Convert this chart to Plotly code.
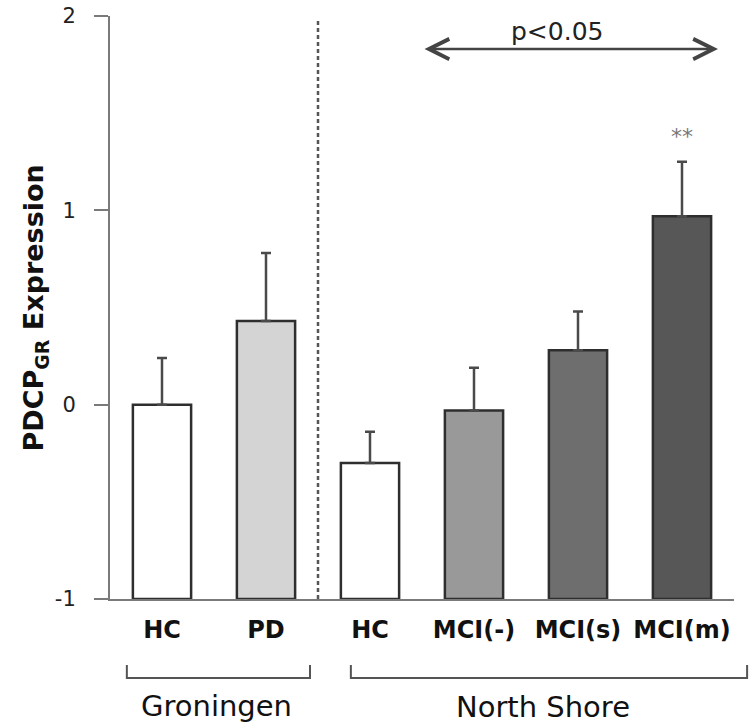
import plotly.graph_objects as go

categories = ["HC", "PD", "HC ", "MCI(-)", "MCI(s)", "MCI(m)"]
means = [0.00, 0.43, -0.30, -0.03, 0.28, 0.97]
sem_upper = [0.24, 0.35, 0.16, 0.22, 0.20, 0.28]
colors = ["#ffffff", "#d4d4d4", "#ffffff", "#999999", "#6e6e6e", "#575757"]
y_ticks = [-1, 0, 1, 2]
groups = ["Groningen", "North Shore"]
BASE = -1

xpos = list(range(len(categories)))
FONT = "DejaVu Sans"

fig = go.Figure()
fig.add_trace(go.Bar(
    x=xpos, y=[m - BASE for m in means], base=BASE, width=0.56,
    marker=dict(color=colors, line=dict(color="#2e2e2e", width=2.5)),
    error_y=dict(type="data", symmetric=False, array=sem_upper,
                 arrayminus=[0] * len(means), color="#4a4a4a",
                 thickness=2.5, width=5),
    showlegend=False,
))

fig.update_layout(
    width=749, height=727,
    margin=dict(l=110, r=15, t=16, b=128),
    paper_bgcolor="white", plot_bgcolor="white",
    font=dict(family=FONT, color="#222"),
)
fig.update_xaxes(
    range=[-0.5, 5.5], tickvals=xpos,
    ticktext=["<b>%s</b>" % c.strip() for c in categories],
    tickfont=dict(size=24, color="#111"), ticks="", ticklabelstandoff=8,
    showline=True, linecolor="#7a7a7a", linewidth=2, showgrid=False,
    zeroline=False, automargin=False,
)
fig.update_yaxes(
    range=[-1, 2], tickvals=y_ticks, ticktext=[str(v) for v in y_ticks],
    tickfont=dict(size=21, color="#222"), ticks="outside", ticklen=14,
    tickcolor="#7a7a7a", tickwidth=2, ticklabelstandoff=14,
    showline=True, linecolor="#7a7a7a", linewidth=2, showgrid=False,
    zeroline=False, automargin=False,
)

# y-axis title
fig.add_annotation(x=-0.1186, y=0.50, xref="paper", yref="paper",
                   xanchor="center", yanchor="middle",
                   text="<b>PDCP<sub>GR</sub> Expression</b>", textangle=-90,
                   showarrow=False, font=dict(size=27, color="#111"))

# dashed separator between cohorts
fig.add_shape(type="line", xref="x", yref="y", x0=1.5, x1=1.5, y0=-1, y1=1.98,
              line=dict(color="#555", width=2.5, dash="4px,3px"))

# brackets under group labels
def bracket(x0, x1):
    fig.add_shape(type="path", xref="paper", yref="paper",
                  path=f"M {x0},-0.113 L {x0},-0.1355 L {x1},-0.1355 L {x1},-0.113",
                  line=dict(color="#555", width=2))

bracket(0.027, 0.3205)
bracket(0.386, 1.021)
fig.add_annotation(x=0.170, y=-0.184, xref="paper", yref="paper", text=groups[0],
                   xanchor="center", yanchor="middle",
                   showarrow=False, font=dict(size=29, color="#111"))
fig.add_annotation(x=0.694, y=-0.186, xref="paper", yref="paper", text=groups[1],
                   xanchor="center", yanchor="middle",
                   showarrow=False, font=dict(size=29, color="#111"))

# significance arrow
fig.add_annotation(x=5.346, y=1.83, ax=2.51, ay=1.83, xref="x", yref="y",
                   axref="x", ayref="y", text="", showarrow=True,
                   arrowside="end+start", arrowhead=5, arrowsize=1.6,
                   arrowwidth=2.5, arrowcolor="#444")
fig.add_annotation(x=3.80, y=1.918, xref="x", yref="y", text="p<0.05",
                   xanchor="center", yanchor="middle",
                   showarrow=False, font=dict(size=25, color="#222"))
fig.add_annotation(x=5, y=1.38, xref="x", yref="y", text="**",
                   xanchor="center", yanchor="middle",
                   showarrow=False, font=dict(size=22, color="#777"))

fig.write_html("out.html", config={"displayModeBar": False},
               post_script="document.body.style.margin='0px';")
